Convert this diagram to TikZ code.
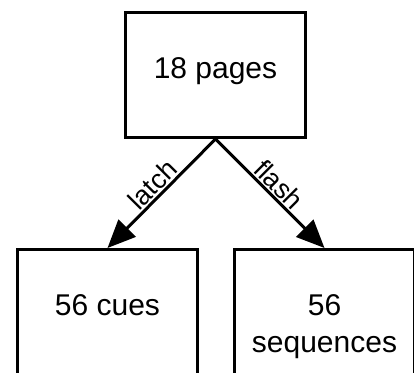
\documentclass[tikz,border=0pt]{standalone}
\usepackage{fontspec}
\setmainfont{Liberation Sans}
\usetikzlibrary{positioning,arrows.meta}

\begin{document}
\begin{tikzpicture}[x=1pt,y=1pt]
\tikzset{
	box/.style={draw, line width=3pt, minimum width=180pt, minimum height=125pt, inner sep=0pt},
	boxtext/.style={inner sep=0pt, align=center, font=\fontsize{30}{37}\selectfont},
	link/.style={line width=3pt, -{Triangle[length=28pt,width=24pt]}},
	linklabel/.style={font=\fontsize{27}{30}\selectfont, sloped, above, midway, inner sep=1.5pt}
}

\def\ecartY{-312}% row of the targets
\def\textgap{46pt}

\useasboundingbox (0,0) rectangle (414,-372);

% source
\node[box] (pages) at (215.5,-75) {};
\node[boxtext, below=\textgap of pages.north] (pagestxt) {18 pages};

% targets
\node[box] (cues) at (107.5,\ecartY) {};
\node[boxtext, below=\textgap of cues.north] (cuestxt) {56 cues};

\node[box] (seqs) at (324.5,\ecartY) {};
\node[boxtext, below=\textgap of seqs.north] (seqstxt) {56\\sequences};

% links
\draw[link] (pages.south) -- (cues.north) node[linklabel] (latchlbl) {latch};
\draw[link] (pages.south) -- (seqs.north) node[linklabel] (flashlbl) {flash};

\end{tikzpicture}
\end{document}
